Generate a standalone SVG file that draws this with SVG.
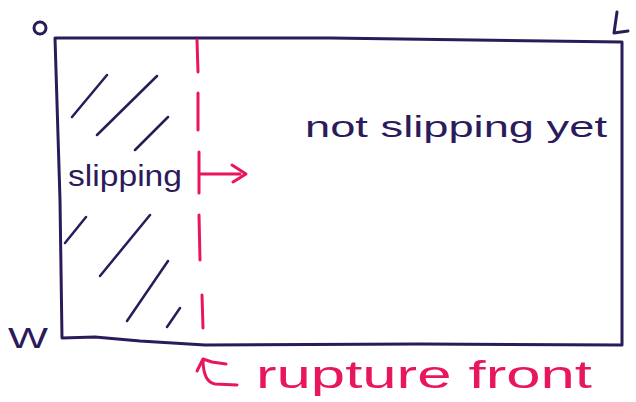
<svg xmlns="http://www.w3.org/2000/svg" width="636" height="402" viewBox="0 0 636 402">
<style>
.ink{fill:none;stroke:#2b1b5a;stroke-width:3;stroke-linecap:round;stroke-linejoin:round}
.hatch{fill:none;stroke:#2b1b5a;stroke-width:2.5;stroke-linecap:round}
.red{fill:none;stroke:#e8175d;stroke-width:3;stroke-linecap:round;stroke-linejoin:round}
.t{font-family:"Liberation Sans","DejaVu Sans",sans-serif;fill:#2b1b5a}
.tr{font-family:"Liberation Sans","DejaVu Sans",sans-serif;fill:#e8175d}
</style>
<rect width="636" height="402" fill="#ffffff"/>
<g id="domain">
<path class="ink" d="M55,38 L330,38 L622,42 M55,38 L60,200 L62,338 M62,338 L95,337 L140,341 L205,345 L420,344 L622,345 M622,42 L622,345"/>
</g>
<g id="labels">
<circle cx="40" cy="28" r="6" fill="none" stroke="#2b1b5a" stroke-width="3"/>
<path class="ink" d="M617,12 L614,33 L628,31"/>
<text class="t" x="8" y="348" font-size="30" textLength="40" lengthAdjust="spacingAndGlyphs">W</text>
</g>
<g id="slipping-region">
<path class="hatch" d="M72,117 L107,75 M97,135 L157,76 M135,150 L168,117 M65,243 L86,217 M100,276 L150,215 M127,321 L168,261 M167,327 L180,308"/>
<text class="t" x="68" y="186" font-size="30" textLength="114" lengthAdjust="spacingAndGlyphs">slipping</text>
</g>
<g id="not-slipping-region">
<text class="t" x="305" y="137" font-size="30" textLength="302" lengthAdjust="spacingAndGlyphs">not slipping yet</text>
</g>
<g id="rupture-front">
<path class="red" d="M197,40 L198,72 M198,93 L198,130 M199,152 L199,193 M199,215 L200,260 M202,295 L203,328"/>
<path class="red" d="M200,174 L240,174 M232,165 L246,174 L233,182"/>
<path class="red" d="M197,371 L203,359 L212,362 L226,364 M203,359 Q203,382 215,384 L237,385"/>
<text class="tr" x="256" y="388" font-size="38" textLength="336" lengthAdjust="spacingAndGlyphs">rupture front</text>
</g>
</svg>
